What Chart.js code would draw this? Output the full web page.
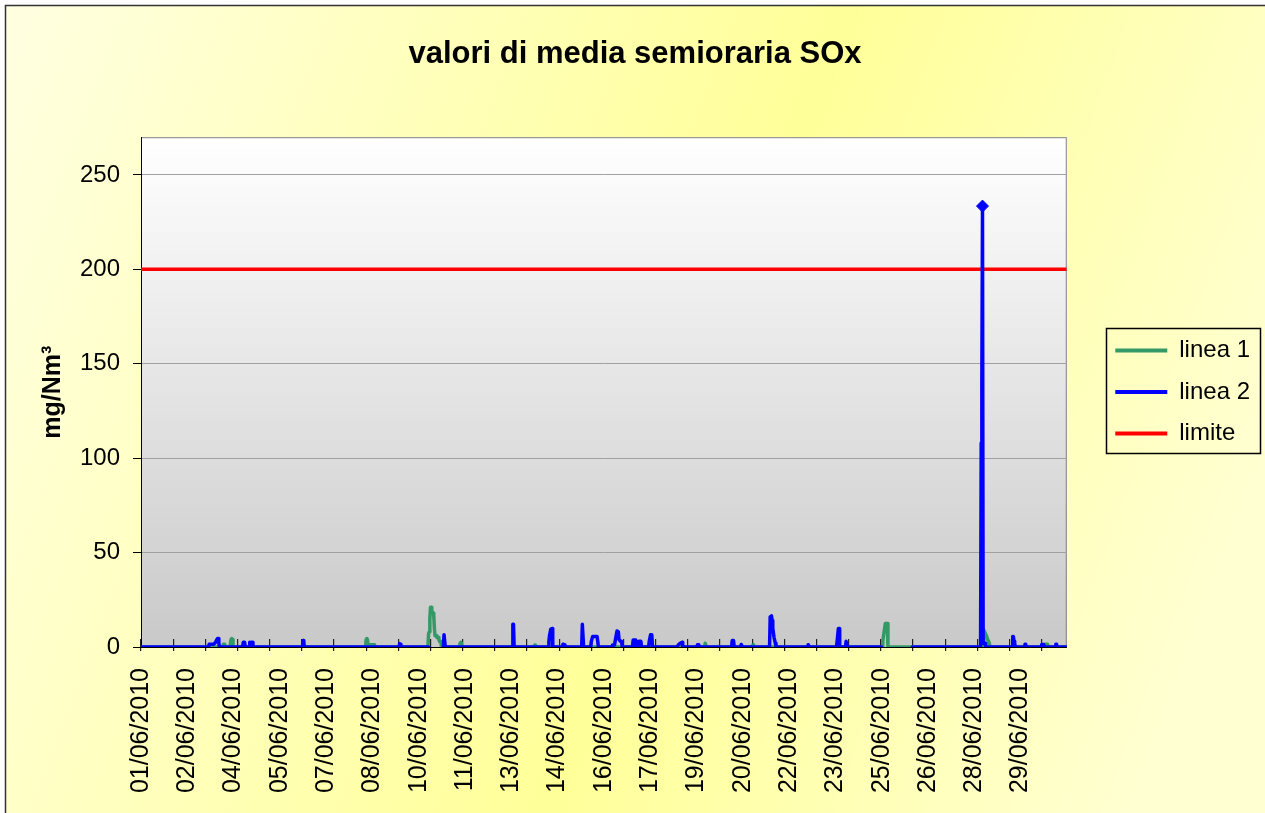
<!DOCTYPE html>
<html>
<head>
<meta charset="utf-8">
<script src="https://cdn.jsdelivr.net/npm/chart.js@4.4.1/dist/chart.umd.min.js"></script>
<style>
html,body{margin:0;padding:0;background:#fff;}
#wrap{width:1265px;height:813px;position:relative;}
</style>
</head>
<body>
<div id="wrap"><canvas id="c" width="1265" height="813"></canvas></div>
<script>
const FONT = '"Liberation Sans", Arial, Helvetica, sans-serif';

// x values are half-hour slots from 01/06/2010 00:00 (0) to 30/06/2010 23:30 (1439)
const tickLabels = ['01/06/2010','02/06/2010','04/06/2010','05/06/2010','07/06/2010','08/06/2010',
  '10/06/2010','11/06/2010','13/06/2010','14/06/2010','16/06/2010','17/06/2010','19/06/2010',
  '20/06/2010','22/06/2010','23/06/2010','25/06/2010','26/06/2010','28/06/2010','29/06/2010'];

const seriesNames = ['linea 1', 'linea 2', 'limite'];

// [half-hour slot, mg/Nm3]
const linea1 = [[0,0],[127,0],[128,1.5],[130,1.5],[131,0],[138,0],[139,2],[140,4],[141,4.5],[142,4],[143,0],
  [349,0],[350,4],[351,4.5],[352,4],[353,1],[354,1.2],[363,1.2],[364,0],
  [446,0],[447,7],[448,8],[449,15],[450,21],[451,21],[452,19],[453,18],[454,18],[455,17],[456,10],[457,6],[458,6],[459,6],[460,5],[461,5],[462,5],[463,4],[464,3],[466,3],[467,0],
  [495,0],[496,2],[497,2.5],[498,2],[499,0],
  [611,0],[612,1],[613,1],[614,0],
  [876,0],[877,2],[878,2],[879,0],
  [950,0],[951,1],[952,1.2],[953,0],
  [1152,0],[1153,3],[1155,8],[1157,12.5],[1160,12.5],[1161,0],
  [1309,0],[1310,9],[1312,7.5],[1314,6],[1316,4],[1318,2.5],[1320,0],
  [1404,0],[1405,1.5],[1409,1.5],[1410,0],
  [1439,0]];

const linea2 = [[0,0],[105,0],[106,1.5],[113,1.5],[116,2.5],[118,4],[119,4.5],[120,4.5],[121,2],[122,0],
  [158,0],[159,2.5],[161,2.5],[162,0],[168,0],[169,2.5],[170,1],[172,2.5],[173,2.5],[174,0],
  [251,0],[252,3.5],[253,3],[254,0],
  [401,0],[402,1.8],[403,1.5],[404,0],
  [447,0],[448,null],[470,0],[471,6.5],[472,6.5],[473,0],
  [577,0],[578,12],[579,12],[580,0],
  [633,0],[634,3],[635,6],[637,9.5],[639,9.8],[640,0],
  [655,0],[656,1.5],[658,1.2],[659,0],
  [685,0],[686,12],[687,12],[688,0],
  [699,0],[700,3],[702,5.5],[709,5.5],[711,0],
  [732,0],[733,1],[736,1],[738,5],[740,8.5],[742,8],[743,4],[745,3],[747,3],[748,0],
  [764,0],[765,3.7],[768,3.7],[769,0],[773,0],[774,3],[777,3],[778,0],
  [789,0],[790,3],[792,6.5],[794,6.5],[795,0],
  [833,0],[835,1],[838,2],[841,2.5],[842,0],
  [864,0],[865,1.2],[867,1.2],[868,0],
  [918,0],[919,3.5],[921,3.5],[922,0],
  [932,0],[933,1.3],[934,1.3],[935,0],
  [977,0],[978,16],[980,16.5],[981,14],[982,10],[984,5],[986,2],[987,0],
  [1036,0],[1037,1.2],[1038,1.2],[1039,0],
  [1081,0],[1082,3],[1084,9.8],[1085,9.8],[1086,0],
  [1095,0],[1096,3],[1097,3],[1098,0],
  [1151,0],[1152,null],[1199,0],
  [1305,0],[1306,108],[1307,141],[1308,233.5],[1309,2],[1312,2],[1313,0],
  [1354,0],[1355,5.5],[1356,5.5],[1357,3],[1358,2],[1359,0],
  [1373,0],[1374,1.5],[1375,1.5],[1376,0],
  [1399,0],[1400,1.3],[1403,1.3],[1404,0],
  [1421,0],[1422,1.5],[1423,1.5],[1424,0],
  [1439,0]];

const limite = [[0,200],[1439,200]];

const yTicks = { min: 0, max: 270, step: 50 };
const xSlots = { min: 0, max: 1439, labelStep: 72, tickStep: 50 };

const toXY = arr => arr.map(([x, y]) => ({ x, y }));
const linea2Peak = Math.max(...linea2.map(p => p[1] == null ? 0 : p[1]));

const bgPlugin = {
  id: 'excelBg',
  beforeDraw(chart) {
    const { ctx, width, height, chartArea: a } = chart;
    ctx.save();
    ctx.fillStyle = '#ffffff';
    ctx.fillRect(0, 0, width, height);
    const g = ctx.createLinearGradient(0, 0, width, width * 0.375);
    g.addColorStop(0, '#FFFFE2');
    g.addColorStop(0.59, '#FFFF99');
    g.addColorStop(1, '#FFFFD2');
    ctx.fillStyle = g;
    ctx.fillRect(6, 6, width, height);
    ctx.strokeStyle = '#333333';
    ctx.lineWidth = 1.5;
    ctx.strokeRect(5.5, 5.5, width + 20, height + 20);
    const pg = ctx.createLinearGradient(0, a.top, 0, a.bottom);
    pg.addColorStop(0, '#FFFFFF');
    pg.addColorStop(1, '#C9C9C9');
    ctx.fillStyle = pg;
    ctx.fillRect(a.left, a.top, a.right - a.left, a.bottom - a.top);
    ctx.strokeStyle = '#808080';
    ctx.lineWidth = 1;
    ctx.strokeRect(a.left + 0.5, a.top + 0.5, a.right - a.left - 1, a.bottom - a.top);
    ctx.restore();
  },
  afterDraw(chart) {
    const lg = chart.legend;
    if (!lg || !lg.legendHitBoxes || !lg.legendHitBoxes.length) return;
    const hb = lg.legendHitBoxes;
    const first = hb[0], last = hb[hb.length - 1];
    const ctx = chart.ctx;
    ctx.save();
    ctx.strokeStyle = '#000';
    ctx.lineWidth = 1.5;
    const l = Math.round(first.left - 9) + 0.5;
    const t = Math.round(first.top - 11) + 0.5;
    const r = Math.round(lg.right) + 0.5;
    const b = Math.round(last.top + last.height + 7) + 0.5;
    ctx.strokeRect(l, t, r - l, b - t);
    ctx.restore();
  }
};

new Chart(document.getElementById('c'), {
  type: 'line',
  data: {
    datasets: [
      { label: seriesNames[0], data: toXY(linea1), xAxisID: 'x', yAxisID: 'y', order: 2,
        borderColor: '#339966', backgroundColor: '#339966', borderWidth: 3.5,
        borderJoinStyle: 'round', borderCapStyle: 'round', pointRadius: 0, tension: 0, fill: false },
      { label: seriesNames[1], data: toXY(linea2), xAxisID: 'x', yAxisID: 'y', order: 1,
        borderColor: '#0000FF', backgroundColor: '#0000FF', borderWidth: 3.5,
        borderJoinStyle: 'round', borderCapStyle: 'round', tension: 0, fill: false,
        pointStyle: 'rectRot', pointBackgroundColor: '#0000FF', pointBorderColor: '#0000FF', pointBorderWidth: 1,
        pointRadius: c => (c.raw && c.raw.y === linea2Peak ? 6 : 0) },
      { label: seriesNames[2], data: toXY(limite), xAxisID: 'x', yAxisID: 'y', order: 3,
        borderColor: '#FF0000', backgroundColor: '#FF0000', borderWidth: 3.5,
        pointRadius: 0, tension: 0, fill: false }
    ]
  },
  options: {
    responsive: false,
    devicePixelRatio: 1,
    animation: false,
    events: [],
    layout: { padding: { left: 10, right: 5, top: 6, bottom: 20 } },
    plugins: {
      tooltip: { enabled: false },
      title: {
        display: true, text: 'valori di media semioraria SOx', color: '#000',
        font: { family: FONT, size: 31, weight: 'bold' },
        padding: { top: 30, bottom: 64 }
      },
      legend: {
        display: true, position: 'right', align: 'center', fullSize: false,
        labels: {
          boxWidth: 52, boxHeight: 4, padding: 17.5, color: '#000',
          font: { family: FONT, size: 24 },
          generateLabels: chart => chart.data.datasets.map((d, i) => ({
            text: d.label, fillStyle: d.borderColor, strokeStyle: d.borderColor,
            lineWidth: 0, hidden: false, datasetIndex: i, fontColor: '#000'
          }))
        }
      }
    },
    scales: {
      x: {
        type: 'linear', position: 'bottom', min: xSlots.min, max: xSlots.max, weight: 0,
        grid: { display: false, drawTicks: false },
        border: { display: true, color: '#000', width: 1 },
        ticks: {
          stepSize: xSlots.labelStep, autoSkip: false, includeBounds: false,
          minRotation: 90, maxRotation: 90, padding: 21, color: '#000',
          font: { family: FONT, size: 25 },
          callback: v => tickLabels[Math.round(v / xSlots.labelStep)] ?? ''
        },
        afterFit: s => { s.height = 146; s.paddingLeft = 0; s.paddingRight = 0; }
      },
      xTick: {
        type: 'linear', axis: 'x', position: { y: 4 }, min: xSlots.min, max: xSlots.max,
        grid: { drawOnChartArea: false, drawTicks: true, tickLength: 12, tickColor: '#222', lineWidth: 1.2 },
        border: { display: false },
        ticks: { display: false, stepSize: xSlots.tickStep, includeBounds: false }
      },
      y: {
        type: 'linear', position: 'left', min: yTicks.min, max: yTicks.max,
        ticks: { stepSize: yTicks.step, includeBounds: false, padding: 13, color: '#000',
          font: { family: FONT, size: 24 } },
        grid: { color: '#a0a0a0', lineWidth: 1, tickColor: '#000', tickLength: 8 },
        border: { display: true, color: '#000', width: 1 },
        title: { display: true, text: 'mg/Nm³', color: '#000',
          font: { family: FONT, size: 25, weight: 'bold' }, padding: { top: 28, bottom: 12 } },
        afterFit: s => { s.width = 131; }
      },
      yR: {
        type: 'linear', position: 'right', min: 0, max: 1, display: true,
        ticks: { display: false }, grid: { display: false }, border: { display: false },
        afterFit: s => { s.width = 31; }
      }
    }
  },
  plugins: [bgPlugin]
});
</script>
</body>
</html>
